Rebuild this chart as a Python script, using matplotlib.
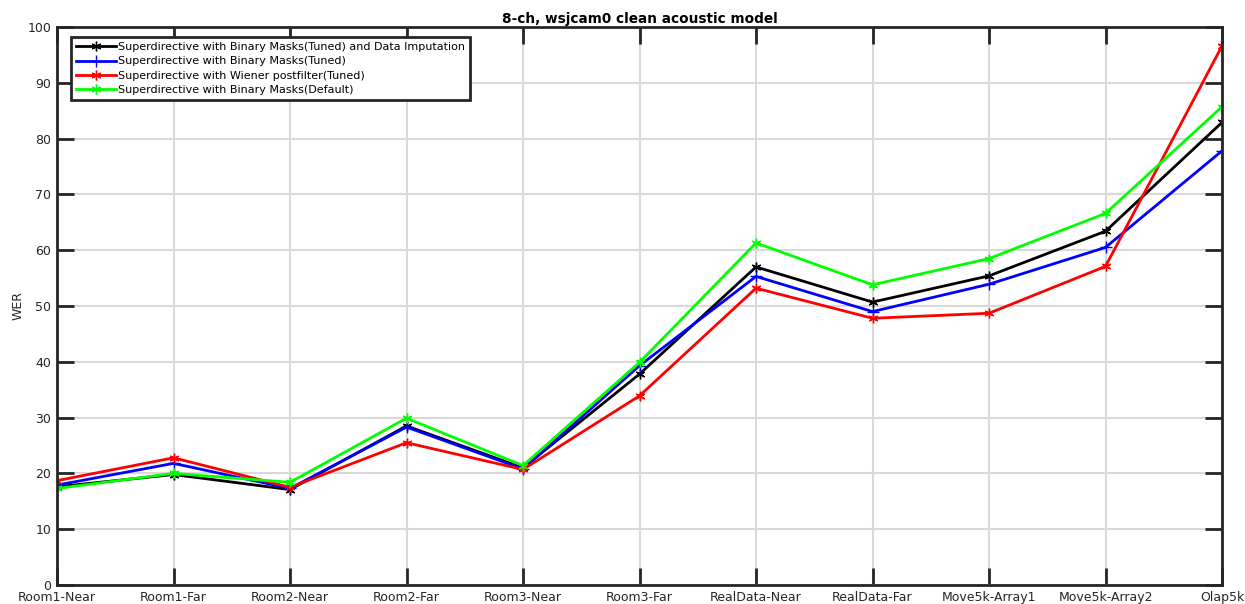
import matplotlib
matplotlib.use("Agg")
import matplotlib.pyplot as plt
import numpy as np

categories = ['Room1-Near', 'Room1-Far', 'Room2-Near', 'Room2-Far', 'Room3-Near',
              'Room3-Far', 'RealData-Near', 'RealData-Far', 'Move5k-Array1',
              'Move5k-Array2', 'Olap5k']

imputation = [17.6, 19.8, 17.1, 28.5, 21.0, 37.8, 57.0, 50.7, 55.4, 63.4, 82.9]
bm_tuned = [17.9, 21.8, 17.3, 28.3, 20.8, 39.3, 55.3, 49.0, 53.9, 60.5, 77.8]
wiener = [18.7, 22.8, 17.5, 25.5, 20.7, 33.9, 53.2, 47.8, 48.7, 57.1, 96.6]
bm_default = [17.3, 20.0, 18.4, 29.9, 21.4, 39.9, 61.3, 53.8, 58.5, 66.6, 85.7]

labels = ['Superdirective with Binary Masks(Tuned) and Data Imputation',
          'Superdirective with Binary Masks(Tuned)',
          'Superdirective with Wiener postfilter(Tuned)',
          'Superdirective with Binary Masks(Default)']

x = np.arange(1, len(categories) + 1)
ast = (6, 2, 0)  # matlab style asterisk

fig = plt.figure(figsize=(12.45, 6.04), dpi=100)
ax = fig.add_axes([57 / 1245, 19 / 604, 1165 / 1245, 558 / 604])

ax.plot(x, imputation, color='black', marker=ast, lw=2, ms=7, mew=1, label=labels[0])
ax.plot(x, bm_tuned, color='blue', marker='+', lw=2, ms=8, mew=1, label=labels[1])
ax.plot(x, wiener, color='red', marker=ast, lw=2, ms=7, mew=1, label=labels[2])
ax.plot(x, bm_default, color='#00ff00', marker=ast, lw=2, ms=7, mew=1, label=labels[3])

ax.set_xlim(1, 11)
ax.set_ylim(0, 100)
ax.set_xticks(x)
ax.set_xticklabels(categories, fontsize=9, color='#262626')
ax.set_yticks(np.arange(0, 101, 10))
ax.tick_params(axis='y', labelsize=9, labelcolor='#262626')
ax.tick_params(direction='in', length=12, width=2, color='#262626',
               top=True, right=True, pad=4)
ax.grid(True, color='#d9d9d9', lw=1.5)
for s in ax.spines.values():
    s.set_linewidth(2)
    s.set_color('#262626')

ax.set_ylabel('WER', fontsize=9, color='#262626', labelpad=2)
ax.set_title('8-ch, wsjcam0 clean acoustic model', fontsize=9.8, fontweight='bold',
             pad=3)

leg = ax.legend(loc='upper left', bbox_to_anchor=(0.012, 0.982), fontsize=8,
                fancybox=False, framealpha=1, borderpad=0.45, labelspacing=0.4,
                handlelength=3.6, handletextpad=0.2, borderaxespad=0)
leg.get_frame().set_edgecolor('#262626')
leg.get_frame().set_linewidth(2)

fig.savefig('out.png', dpi=100)
